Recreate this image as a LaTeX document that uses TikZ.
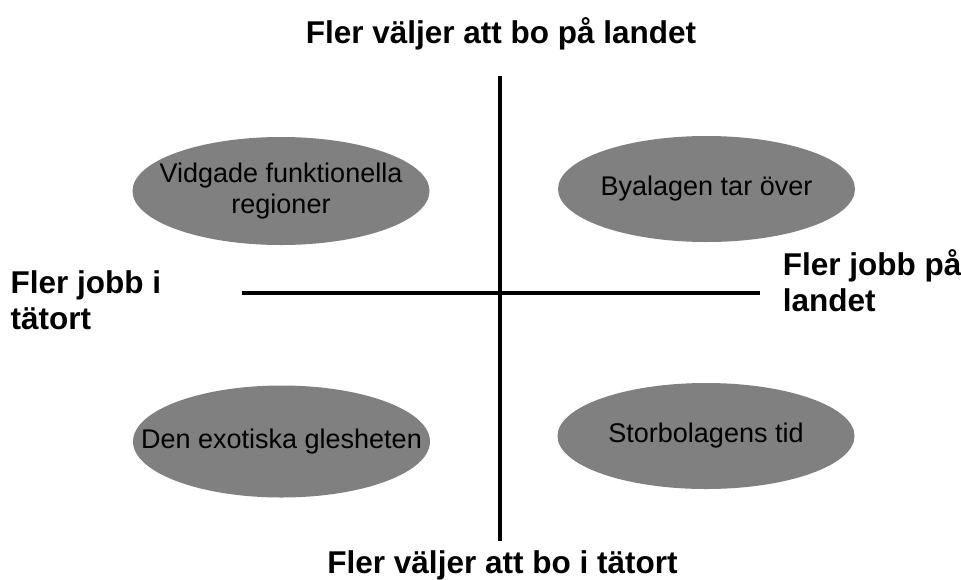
\documentclass[tikz,border=0pt]{standalone}
\usepackage{fontspec}
\setmainfont{Liberation Sans}
\usetikzlibrary{shapes.geometric}
\definecolor{ellgray}{RGB}{128,128,128}
\begin{document}
\begin{tikzpicture}[x=1pt,y=-1pt,
  oval/.style={ellipse,fill=ellgray,draw=none,minimum width=297pt,minimum height=#1,inner sep=0pt},
  ovaltext/.style={inner sep=0pt,align=center,font=\fontsize{27}{31}\selectfont},
  axislabel/.style={font=\fontsize{31.5}{36}\selectfont\bfseries,inner sep=0pt},
  axis/.style={line width=4pt}]
\useasboundingbox (0,0) rectangle (961,579);
\coordinate (vtop) at (500,76);
\coordinate (vbot) at (500,541);
\coordinate (hl) at (242,293);
\coordinate (hr) at (760,293);
\draw[axis] (vtop) -- (vbot);
\draw[axis] (hl) -- (hr);
\node[oval=108pt] (tl) at (281,191) {};
\node[ovaltext] (tlt) at (tl.center) {Vidgade funktionella\\regioner};
\node[oval=106pt] (tr) at (706.5,189) {};
\node[ovaltext] (trt) at (tr.center) {Byalagen tar över};
\node[oval=112pt] (bl) at (281.5,441.5) {};
\node[ovaltext] (blt) at (bl.center) {Den exotiska glesheten};
\node[oval=106pt] (br) at (706,436) {};
\node[ovaltext] (brt) at (br.center) {Storbolagens tid};
\node[axislabel,anchor=base] (top) at (501,43) {Fler väljer att bo på landet};
\node[axislabel,anchor=base] (bot) at (502.5,573) {Fler väljer att bo i tätort};
\node[axislabel,anchor=base west,align=left] (left) at (10.4,329) {Fler jobb i\\tätort};
\node[axislabel,anchor=base west,align=left] (right) at (782.7,311) {Fler jobb på\\landet};
\end{tikzpicture}
\end{document}
